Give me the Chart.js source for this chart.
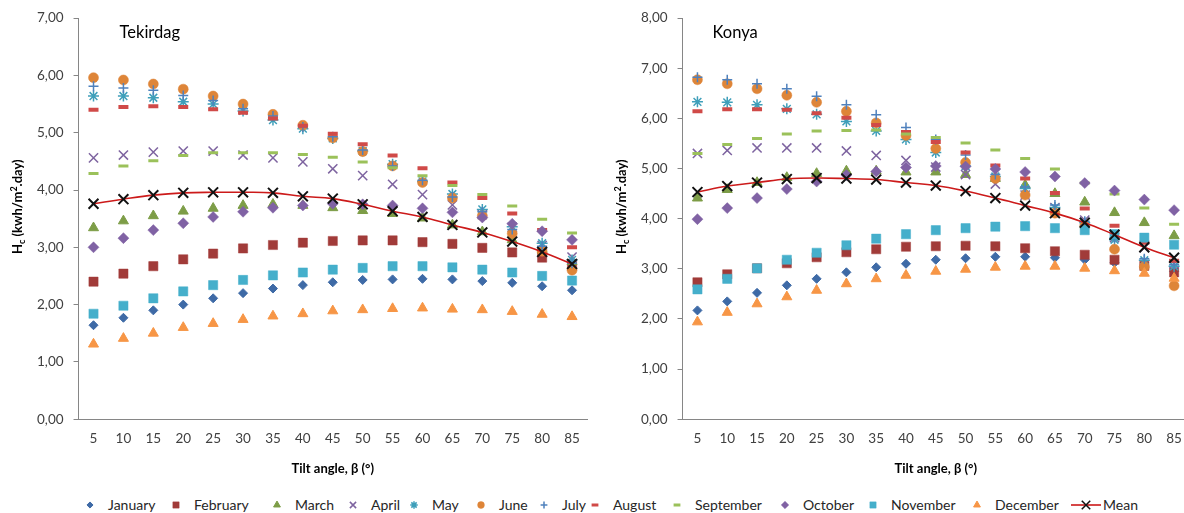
<!DOCTYPE html>
<html>
<head>
<meta charset="utf-8">
<script src="https://cdn.jsdelivr.net/npm/chart.js@4.4.1/dist/chart.umd.min.js"></script>
<style>
  body { margin: 0; background: #fff; width: 1184px; height: 513px; overflow: hidden; position: relative; font-family: Lato, "Noto Sans", sans-serif; }
  canvas.chart { position: absolute; top: 0; }
  #legend { position: absolute; left: 0; top: 496px; width: 1184px; height: 18px; font-size: 14px; color: #262626; white-space: nowrap; }
  .item { position: absolute; top: 0; display: flex; align-items: center; }
  .item canvas { margin-right: 12px; }
  .item.mean canvas { margin-right: 2px; }
</style>
</head>
<body>
<canvas class="chart" id="tekirdagChart" width="596" height="482" style="left:0"></canvas>
<canvas class="chart" id="konyaChart" width="606" height="482" style="left:592px"></canvas>
<div id="legend"></div>
<script>
// 傾斜角 (x軸)
const tiltAngles = ["5", "10", "15", "20", "25", "30", "35", "40", "45", "50", "55", "60", "65", "70", "75", "80", "85"];
const monthNames = ["January", "February", "March", "April", "May", "June", "July", "August", "September", "October", "November", "December"];

// Tekirdag
const tekirdagJanuary = [1.64, 1.77, 1.90, 2.00, 2.11, 2.20, 2.28, 2.34, 2.39, 2.43, 2.44, 2.45, 2.44, 2.41, 2.38, 2.32, 2.25];
const tekirdagFebruary = [2.40, 2.54, 2.67, 2.79, 2.89, 2.98, 3.04, 3.08, 3.11, 3.12, 3.12, 3.09, 3.06, 2.99, 2.91, 2.82, 2.68];
const tekirdagMarch = [3.34, 3.46, 3.55, 3.63, 3.68, 3.73, 3.75, 3.73, 3.69, 3.64, 3.59, 3.51, 3.39, 3.27, 3.13, 2.95, 2.75];
const tekirdagApril = [4.56, 4.61, 4.66, 4.68, 4.68, 4.61, 4.56, 4.49, 4.37, 4.25, 4.10, 3.92, 3.74, 3.57, 3.35, 3.03, 2.83];
const tekirdagMay = [5.64, 5.64, 5.61, 5.54, 5.50, 5.38, 5.22, 5.07, 4.90, 4.68, 4.45, 4.15, 3.93, 3.66, 3.36, 3.07, 2.78];
const tekirdagJune = [5.96, 5.92, 5.85, 5.76, 5.64, 5.50, 5.32, 5.13, 4.91, 4.67, 4.42, 4.13, 3.86, 3.55, 3.24, 2.93, 2.60];
const tekirdagJuly = [5.81, 5.78, 5.74, 5.65, 5.56, 5.42, 5.29, 5.10, 4.93, 4.70, 4.42, 4.17, 3.88, 3.62, 3.31, 3.02, 2.72];
const tekirdagAugust = [5.40, 5.45, 5.46, 5.45, 5.41, 5.35, 5.25, 5.12, 4.98, 4.80, 4.60, 4.38, 4.13, 3.86, 3.59, 3.30, 3.00];
const tekirdagSeptember = [4.29, 4.42, 4.51, 4.60, 4.65, 4.65, 4.65, 4.62, 4.57, 4.49, 4.39, 4.25, 4.08, 3.92, 3.72, 3.49, 3.25];
const tekirdagOctober = [3.00, 3.16, 3.30, 3.42, 3.53, 3.62, 3.69, 3.73, 3.76, 3.75, 3.73, 3.68, 3.61, 3.52, 3.41, 3.28, 3.13];
const tekirdagNovember = [1.84, 1.98, 2.11, 2.23, 2.34, 2.43, 2.51, 2.56, 2.61, 2.64, 2.67, 2.67, 2.65, 2.61, 2.56, 2.50, 2.42];
const tekirdagDecember = [1.31, 1.41, 1.50, 1.60, 1.67, 1.74, 1.80, 1.84, 1.89, 1.91, 1.93, 1.94, 1.92, 1.91, 1.88, 1.83, 1.79];
const tekirdagMean = [3.76, 3.84, 3.91, 3.95, 3.96, 3.96, 3.95, 3.89, 3.85, 3.75, 3.63, 3.53, 3.39, 3.26, 3.10, 2.92, 2.71];

// Konya
const konyaJanuary = [2.17, 2.35, 2.52, 2.67, 2.80, 2.93, 3.03, 3.10, 3.18, 3.21, 3.24, 3.24, 3.22, 3.18, 3.12, 3.02, 2.95];
const konyaFebruary = [2.73, 2.89, 3.01, 3.11, 3.23, 3.33, 3.39, 3.44, 3.45, 3.46, 3.45, 3.41, 3.35, 3.28, 3.18, 3.06, 2.93];
const konyaMarch = [4.41, 4.58, 4.72, 4.82, 4.90, 4.95, 4.95, 4.93, 4.93, 4.88, 4.80, 4.67, 4.50, 4.33, 4.12, 3.92, 3.66];
const konyaApril = [5.30, 5.36, 5.41, 5.41, 5.41, 5.35, 5.26, 5.16, 5.03, 4.88, 4.69, 4.47, 4.22, 3.97, 3.62, 3.42, 3.10];
const konyaMay = [6.33, 6.32, 6.27, 6.19, 6.08, 5.94, 5.75, 5.58, 5.32, 5.05, 4.84, 4.60, 4.22, 3.92, 3.58, 3.17, 3.05];
const konyaJune = [6.77, 6.69, 6.59, 6.46, 6.32, 6.14, 5.91, 5.66, 5.40, 5.12, 4.80, 4.47, 4.11, 3.85, 3.39, 3.04, 2.66];
const konyaJuly = [6.82, 6.77, 6.69, 6.59, 6.44, 6.27, 6.07, 5.82, 5.58, 5.27, 4.88, 4.63, 4.27, 3.95, 3.62, 3.20, 3.08];
const konyaAugust = [6.14, 6.18, 6.18, 6.17, 6.10, 6.01, 5.87, 5.73, 5.53, 5.32, 5.06, 4.80, 4.51, 4.20, 3.86, 3.52, 3.16];
const konyaSeptember = [5.30, 5.48, 5.60, 5.69, 5.75, 5.76, 5.77, 5.69, 5.62, 5.51, 5.37, 5.20, 4.99, 4.71, 4.49, 4.21, 3.89];
const konyaOctober = [3.99, 4.21, 4.41, 4.59, 4.74, 4.87, 4.94, 5.02, 5.05, 5.04, 4.99, 4.93, 4.84, 4.71, 4.56, 4.38, 4.17];
const konyaNovember = [2.59, 2.80, 3.01, 3.18, 3.32, 3.47, 3.60, 3.69, 3.77, 3.81, 3.84, 3.85, 3.81, 3.77, 3.69, 3.62, 3.48];
const konyaDecember = [1.94, 2.13, 2.30, 2.44, 2.57, 2.70, 2.80, 2.87, 2.95, 2.99, 3.03, 3.05, 3.05, 3.01, 2.96, 2.91, 2.81];
const konyaMean = [4.53, 4.65, 4.72, 4.79, 4.81, 4.80, 4.78, 4.72, 4.66, 4.55, 4.41, 4.26, 4.11, 3.92, 3.68, 3.43, 3.22];

const tekirdagSeries = [tekirdagJanuary, tekirdagFebruary, tekirdagMarch, tekirdagApril, tekirdagMay, tekirdagJune,
  tekirdagJuly, tekirdagAugust, tekirdagSeptember, tekirdagOctober, tekirdagNovember, tekirdagDecember];
const konyaSeries = [konyaJanuary, konyaFebruary, konyaMarch, konyaApril, konyaMay, konyaJune,
  konyaJuly, konyaAugust, konyaSeptember, konyaOctober, konyaNovember, konyaDecember];

// マーカーの見た目 (Excel風)
const markerStyles = [
  { color: "#3E6AA6", style: "rectRot", radius: 4.5, width: 1 },
  { color: "#A13B39", style: "rect", radius: 6.5, width: 0.5 },
  { color: "#7D9D47", style: "triangle", radius: 5.8, width: 1 },
  { color: "#7E64A0", style: "crossRot", radius: 6.5, width: 1.5 },
  { color: "#3F9FBA", style: "star", radius: 5.5, width: 1.5 },
  { color: "#DE8538", style: "circle", radius: 5, width: 0.5 },
  { color: "#4F81BD", style: "cross", radius: 5, width: 1.5 },
  { color: "#D04A48", style: "line", radius: 5, width: 4 },
  { color: "#9BC15A", style: "line", radius: 5, width: 3 },
  { color: "#8062A4", style: "rectRot", radius: 5.5, width: 0.5 },
  { color: "#45AFCB", style: "rect", radius: 6.5, width: 0.5 },
  { color: "#F79646", style: "triangle", radius: 5.8, width: 1 },
];
const meanStyle = { line: "#CC1A1A", marker: "#111111", style: "crossRot", radius: 7, width: 2 };

// 凡例テキストの左端 (px)
const legendTextLeft = [108, 194, 295, 371, 432, 499, 562, 613, 695, 803, 891, 995, 1103];

function formatComma(v) {
  return Number(v).toFixed(2).replace(".", ",");
}

function buildDatasets(series, mean) {
  const sets = series.map((values, i) => {
    const s = markerStyles[i];
    return {
      label: monthNames[i],
      data: values,
      showLine: false,
      pointStyle: s.style,
      pointRadius: s.radius,
      pointHoverRadius: s.radius,
      pointBackgroundColor: s.color,
      pointBorderColor: s.color,
      pointBorderWidth: s.width,
      borderColor: s.color,
      backgroundColor: s.color,
      order: 13 - i,
    };
  });
  sets.push({
    label: "Mean",
    data: mean,
    showLine: true,
    tension: 0.4,
    borderColor: meanStyle.line,
    borderWidth: 1.6,
    pointStyle: meanStyle.style,
    pointRadius: meanStyle.radius,
    pointHoverRadius: meanStyle.radius,
    pointBorderColor: meanStyle.marker,
    pointBackgroundColor: meanStyle.marker,
    pointBorderWidth: meanStyle.width,
    order: 0,
  });
  return sets;
}

// 都市名とY軸タイトル(下付き・上付き)を描くプラグイン
const annotatePlugin = {
  id: "annotate",
  afterDraw(chart, args, opts) {
    const { ctx, chartArea } = chart;
    ctx.save();
    ctx.fillStyle = "#000";
    ctx.textAlign = "left";
    ctx.textBaseline = "middle";
    ctx.font = "16.5px Lato";
    ctx.fillText(opts.city, chartArea.left + opts.cityX, chartArea.top + 15);

    const parts = [
      ["H", 13, 0],
      ["c", 9, 3],
      [" (kwh/m", 13, 0],
      ["2", 9, -5],
      [".day)", 13, 0],
    ];
    let total = 0;
    parts.forEach((p) => {
      ctx.font = "bold " + p[1] + "px Lato";
      p.push(ctx.measureText(p[0]).width);
      total += p[3];
    });
    ctx.translate(opts.titleX, (chartArea.top + chartArea.bottom) / 2 - 12);
    ctx.rotate(-Math.PI / 2);
    ctx.fillStyle = "#000";
    ctx.textBaseline = "alphabetic";
    let x = -total / 2;
    parts.forEach((p) => {
      ctx.font = "bold " + p[1] + "px Lato";
      ctx.fillText(p[0], x, 5 + p[2]);
      x += p[3];
    });
    ctx.restore();
  },
};

function makeConfig(series, mean, yMax, city, padLeft, padRight, cityX, titleX) {
  return {
    type: "line",
    data: {
      labels: tiltAngles,
      datasets: buildDatasets(series, mean),
    },
    options: {
      responsive: false,
      animation: false,
      devicePixelRatio: 1,
      layout: {
        padding: { left: padLeft, right: padRight, top: 1, bottom: 5 },
      },
      plugins: {
        legend: { display: false },
        tooltip: { enabled: false },
        annotate: { city: city, cityX: cityX, titleX: titleX },
      },
      scales: {
        x: {
          type: "category",
          offset: true,
          grid: { display: false },
          border: { color: "#868686", width: 1 },
          ticks: {
            padding: 3,
            color: "#404040",
            font: { family: "Lato", size: 13.5 },
            maxRotation: 0,
            autoSkip: false,
          },
          title: {
            display: true,
            text: "Tilt angle, β (°)",
            color: "#000",
            font: { family: "Lato", size: 13, weight: "bold" },
            padding: { top: 12, bottom: 0 },
          },
        },
        y: {
          min: 0,
          max: yMax,
          grid: { drawOnChartArea: false, drawTicks: true, tickLength: 5, color: "#868686" },
          border: { color: "#868686", width: 1 },
          ticks: {
            stepSize: 1,
            padding: 10,
            color: "#404040",
            font: { family: "Lato", size: 13.5 },
            callback: function (value) {
              return formatComma(value);
            },
          },
        },
      },
    },
    plugins: [annotatePlugin],
  };
}

const chartConfigs = {
  tekirdagChart: makeConfig(tekirdagSeries, tekirdagMean, 7, "Tekirdag", 27, 5, 41, 17),
  konyaChart: makeConfig(konyaSeries, konyaMean, 8, "Konya", 39, 3, 30, 29),
};

const charts = {};
function generateChart(config, canvasId) {
  const canvas = document.getElementById(canvasId);
  if (!canvas) {
    throw new Error("Cannot find a canvas element with id " + canvasId);
  }
  return new Chart(canvas, config);
}
Object.keys(chartConfigs).forEach((key) => {
  charts[key] = generateChart(chartConfigs[key], key);
});

// 凡例 (両グラフ共通)
function drawMarker(ctx, style, color, radius, width, x, y) {
  ctx.fillStyle = color;
  ctx.strokeStyle = color;
  ctx.lineWidth = width;
  if (Chart.helpers && Chart.helpers.drawPoint) {
    Chart.helpers.drawPoint(ctx, { pointStyle: style, radius: radius, rotation: 0, borderWidth: width }, x, y);
  }
}
const legend = document.getElementById("legend");
monthNames.forEach((name, i) => {
  const s = markerStyles[i];
  const item = document.createElement("div");
  item.className = "item";
  item.style.left = (legendTextLeft[i] - 24) + "px";
  const c = document.createElement("canvas");
  c.width = 12;
  c.height = 12;
  item.appendChild(c);
  drawMarker(c.getContext("2d"), s.style, s.color, s.radius * 0.68, Math.min(s.width, 3), 6, 6);
  const t = document.createElement("span");
  t.textContent = name;
  item.appendChild(t);
  legend.appendChild(item);
});
(function () {
  const item = document.createElement("div");
  item.className = "item mean";
  item.style.left = (legendTextLeft[12] - 32) + "px";
  const c = document.createElement("canvas");
  c.width = 30;
  c.height = 12;
  const ctx = c.getContext("2d");
  ctx.strokeStyle = meanStyle.line;
  ctx.lineWidth = 1.6;
  ctx.beginPath();
  ctx.moveTo(0, 6);
  ctx.lineTo(30, 6);
  ctx.stroke();
  drawMarker(ctx, meanStyle.style, "#111", 6, 1.5, 15, 6);
  item.appendChild(c);
  const t = document.createElement("span");
  t.textContent = "Mean";
  item.appendChild(t);
  legend.appendChild(item);
})();
</script>
</body>
</html>
